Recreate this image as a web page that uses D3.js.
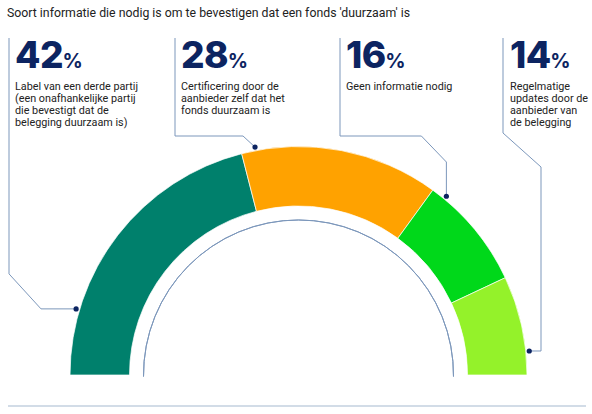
<!DOCTYPE html>
<html>
<head>
<meta charset="utf-8">
<script src="https://cdn.jsdelivr.net/npm/d3@7"></script>
<style>
  body { margin: 0; background: #fff; }
  svg { display: block; }
  .plain { font-family: Roboto, "Noto Sans", sans-serif; }
  .big { font-family: Inter, "DejaVu Sans", sans-serif; }
</style>
</head>
<body>
<div class="display"></div>
<script>
const title = "Soort informatie die nodig is om te bevestigen dat een fonds 'duurzaam' is";
const categories = [
    ['Label van een derde partij', '(een onafhankelijke partij', 'die bevestigt dat de', 'belegging duurzaam is)'],
    ['Certificering door de', 'aanbieder zelf dat het', 'fonds duurzaam is'],
    ['Geen informatie nodig'],
    ['Regelmatige', 'updates door de', 'aanbieder van', 'de belegging']
];
const values = [42, 28, 16, 14];
const colors = ['#00806c', '#ffa200', '#00d81a', '#94f22a'];

const width = 592;
const height = 414;
const cx = 298.5, cy = 375;
const outerR = 228.5, innerR = 169, guideR = 155, dotR = 232;
const navy = '#0c2461';
const lineColor = '#7c97bb';

// where the callout dots sit along the gauge (percent of the half circle)
const anchorPct = [9.2, 44, 72, 96.7];
const columnX = [9, 175, 340, 503];
const lineTop = 38;

const svg = d3.select('.display')
    .append('svg')
    .attr('width', width)
    .attr('height', height);

svg.append('text')
    .attr('class', 'plain')
    .attr('x', 7)
    .attr('y', 17)
    .attr('font-size', 12.3)
    .attr('fill', '#222')
    .text(title);

const angle = d3.scaleLinear().domain([0, 100]).range([-Math.PI / 2, Math.PI / 2]);

const pie = d3.pie()
    .sort(null)
    .value(d => d)
    .startAngle(-Math.PI / 2)
    .endAngle(Math.PI / 2);

const arc = d3.arc().innerRadius(innerR).outerRadius(outerR);

const gauge = svg.append('g').attr('transform', `translate(${cx}, ${cy})`);

gauge.selectAll('path.seg')
    .data(pie(values))
    .enter()
    .append('path')
    .attr('class', 'seg')
    .attr('d', arc)
    .attr('fill', (_, i) => colors[i])
    .attr('stroke', '#fff')
    .attr('stroke-width', 0.7);

gauge.append('path')
    .attr('d', d3.arc().innerRadius(guideR).outerRadius(guideR).startAngle(-Math.PI / 2 - 0.01).endAngle(Math.PI / 2 + 0.01)())
    .attr('fill', 'none')
    .attr('stroke', lineColor)
    .attr('stroke-width', 1);

svg.append('line')
    .attr('x1', 8).attr('x2', 586)
    .attr('y1', 406).attr('y2', 406)
    .attr('stroke', '#c3d1df')
    .attr('stroke-width', 1.5);

const dots = anchorPct.map(p => {
    const a = angle(p);
    return [cx + dotR * Math.sin(a), cy - dotR * Math.cos(a)];
});

const routes = [
    ([x, y], c) => `M${c},${lineTop}V${y - 35}L${c + 32},${y}H${x}`,
    ([x, y], c) => `M${c},${lineTop}V136H${x - 12}L${x},${y}`,
    ([x, y], c) => `M${c},${lineTop}V136H${x - 25}L${x},162V${y}`,
    ([x, y], c) => `M${c},${lineTop}V133L${c + 38},167V${y}H${x}`
];

const callouts = svg.append('g');

callouts.selectAll('path')
    .data(dots)
    .enter()
    .append('path')
    .attr('d', (d, i) => routes[i](d, columnX[i]))
    .attr('fill', 'none')
    .attr('stroke', lineColor)
    .attr('stroke-width', 1);

callouts.selectAll('circle')
    .data(dots)
    .enter()
    .append('circle')
    .attr('cx', d => d[0])
    .attr('cy', d => d[1])
    .attr('r', 2.6)
    .attr('fill', navy);

const labels = svg.selectAll('g.label')
    .data(values)
    .enter()
    .append('g')
    .attr('class', 'label')
    .attr('transform', (_, i) => `translate(${columnX[i] + (i === 3 ? 7 : 6)}, 0)`);

const big = labels.append('text')
    .attr('class', 'big')
    .attr('y', 68)
    .attr('fill', navy)
    .attr('font-weight', 800)
    .attr('font-size', 37);
big.append('tspan')
    .attr('letter-spacing', -0.5)
    .text(d => d);
big.append('tspan')
    .attr('font-size', 20)
    .attr('font-weight', 700)
    .attr('dx', -0.5)
    .text('%');

labels.each(function(_, i) {
    d3.select(this).selectAll('text.desc')
        .data(categories[i])
        .enter()
        .append('text')
        .attr('class', 'plain desc')
        .attr('y', (_, j) => 89.5 + j * 12.2)
        .attr('font-size', 10.8)
        .attr('fill', '#222')
        .text(t => t);
});
</script>
</body>
</html>
